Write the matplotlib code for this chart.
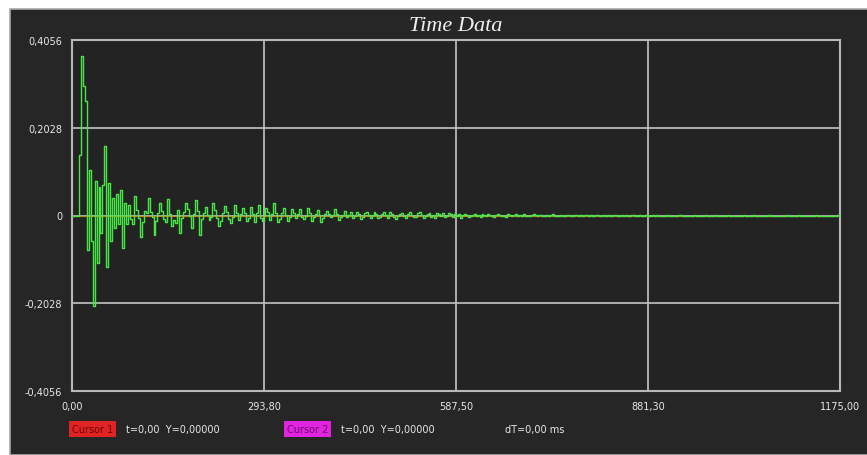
import numpy as np
import matplotlib.pyplot as plt
from matplotlib.patches import Rectangle

# trace values in thousandths (0 .. 1175 ms)
trace_milli = [
    0, 0, 0, 0, 140, 368, 300, 265, -80, 105, -60, -210, 80, -110, 65, -40, 70, 160, -120, 75,
    -60, 40, -30, 50, -20, 58, -75, 30, -20, 25,
    -8, -20, 45, 12, -5, -50, -15, 10, 5, 40, 8, -4, -45, -12, 6, 30, 10, -8, -15, 38,
    4, -25, -10, -18, 12, -40, -5, 8, 30, 15, -2,
    -30, 4, 35, 10, -45, -8, 5, 20, 2, -10, -4, 28, 12, -6, -25, -12, 5, 22, 8, -8,
    -18, -4, 25, 6, -10, 3, 18, 5, -12, -6, 20, 4, -15, 6, 25,
    -5, -12, 3, 18, 8, -10, 4, 28, 6, -15, -8, 6, 18, 2, -12, -4, 15, 6, -6, 4,
    14, -3, -8, -2, 18, 5, -12, -4, 3, 12, 2, -15, -5, 4, 10, 3, -4, 2, 14, 3,
    -10, -3, 2, 10, -4,
    1, 8, -6, -2, 7, 3, -8, -3, 6, 8, 1, -5, 2, 8, 4, -6, -4, 3, 7, 2,
    -5, 9, 4, -3, -7, -2, 4, 6, -2, -6, 3, 8, 2, -4, -3, 5, 7, 1, -5, -2,
    4, 6, -3, 2, -6, 5, 3, -2, 6, -4, -2, 5, 3, -3, 4, -1, 3, -5, 2, 4,
    1, -3, -2, 2, 4, -1, 2, -3, 3, 1, -2, 4, 2, -1, -3, 1, 3, 2, -2, 0,
    -3, 3, 1, -2, 2, 3, -1, 1, -2, 3, 0, -2, -1, 1, 3, 2, -2, 1, 2, -1,
    0, 2, -2, 1, 3, -1, 0, -2, 2, 0, -1, 2, 1, -2, 0, 2, 1, 0, 1, -2,
    2, 1, -1, 2, 0, -1, 1, 2, 0, 0, 1, -1, 2, 0, -1, 1, 1, 0, 0, 2,
    -1, 1, 0, -1, 1, 2, 0, -1, 1, 0, -1, 1, 1, 0, -1, 1, 0, 1, -1, 0,
    0, 0, 1, 0, 0, -1, 0, 0, 1, 1, 0, 0, -1, 0, 0, 0, 1, 0, 0, 0,
    -1, 0, 1, 0, 0, 0, 0, 1, 0, -1, 0, 0, 0, 1, 0, 0, 0, 0, -1, 0,
    0, 1, 0, 0, 0, 0, 1, 0, 0, -1, 0, 0, 0, 0, 1, 0, 0, 0, 0, 0,
    -1, 0, 0, 1, 0, 0, 0, 0, 0, 1, 0, 0, -1, 0, 0, 0, 0, 0, 1, 0,
    0, 0, 0, -1, 0, 0, 0, 0, 0, 1, 0,
]
t_end = 1175.0

x_ticks = [0.0, 293.8, 587.5, 881.3, 1175.0]
x_labels = ["0,00", "293,80", "587,50", "881,30", "1175,00"]
y_ticks = [-0.4056, -0.2028, 0.0, 0.2028, 0.4056]
y_labels = ["-0,4056", "-0,2028", "0", "0,2028", "0,4056"]

y = np.array(trace_milli) / 1000.0
t = np.linspace(0, t_end, len(y))

W, H = 867, 456
fig = plt.figure(figsize=(W / 100, H / 100), dpi=100)
fig.patch.set_facecolor("white")

# dark instrument panel, kept behind the axes
panel = Rectangle((10 / W, 0), 1, 1 - 10 / H, transform=fig.transFigure,
                  facecolor="#262626", edgecolor="#a8a8a8", linewidth=1.2, zorder=-5)
fig.patches.append(panel)

ax = fig.add_axes([72 / W, 1 - 392 / H, (840 - 72) / W, (392 - 41) / H])
ax.set_zorder(2)
ax.set_facecolor("#232323")
for s in ax.spines.values():
    s.set_color("#b8b8b8")
    s.set_linewidth(1.5)

ax.set_xlim(0, 1175)
ax.set_ylim(-0.4056, 0.4056)
ax.set_xticks(x_ticks)
ax.set_yticks(y_ticks)
ax.set_xticklabels(x_labels)
ax.set_yticklabels(y_labels)
ax.tick_params(length=0, colors="#e8e8e8", labelsize=7, pad=7)
ax.grid(True, color="#c4c4c4", linewidth=1.2)
ax.set_axisbelow(True)

ax.plot([t[4], 1175], [0, 0], color="#c8801e", linewidth=0.8, zorder=2)
ax.plot(t, y, drawstyle="steps-mid", color="#46e846", linewidth=1.0, zorder=3)

ax.set_title("Time Data", fontsize=16, style="italic", family="Liberation Serif",
             color="#f0f0f0", pad=7)

# cursor readout row
fs = 7
fig.text(72 / W, 1 - 430 / H, "Cursor 1", fontsize=fs, color="#700000", va="center",
         bbox=dict(boxstyle="square,pad=0.3", facecolor="#e02424", edgecolor="none"))
fig.text(126 / W, 1 - 430 / H, "t=0,00  Y=0,00000", fontsize=fs, color="#e8e8e8", va="center")
fig.text(287 / W, 1 - 430 / H, "Cursor 2", fontsize=fs, color="#700070", va="center",
         bbox=dict(boxstyle="square,pad=0.3", facecolor="#e024e0", edgecolor="none"))
fig.text(341 / W, 1 - 430 / H, "t=0,00  Y=0,00000", fontsize=fs, color="#e8e8e8", va="center")
fig.text(505 / W, 1 - 430 / H, "dT=0,00 ms", fontsize=fs, color="#e8e8e8", va="center")

fig.savefig("out.png", dpi=100, facecolor=fig.get_facecolor())
